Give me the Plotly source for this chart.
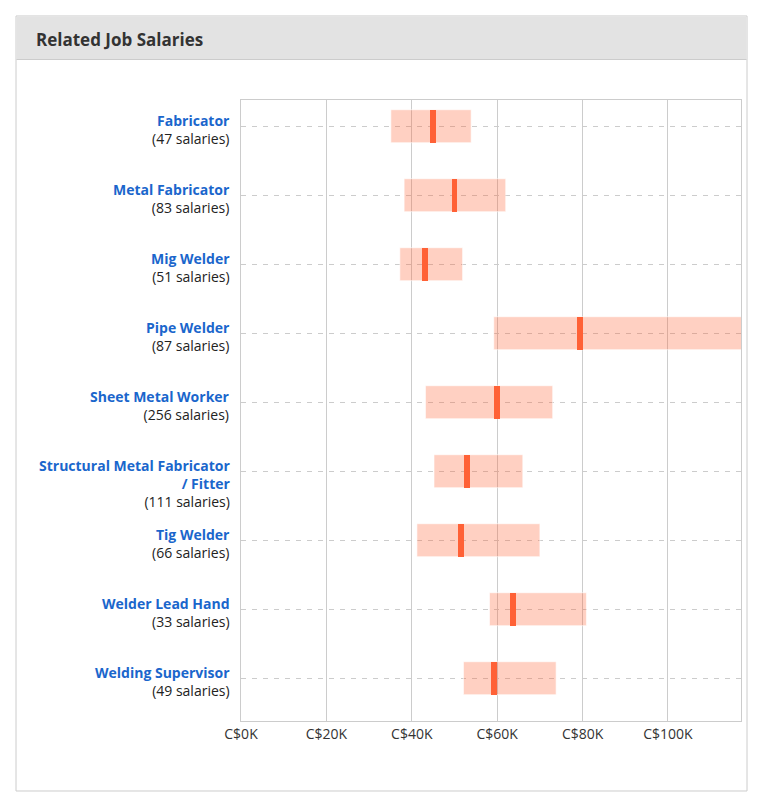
import plotly.graph_objects as go

jobs = ["Fabricator", "Metal Fabricator", "Mig Welder", "Pipe Welder", "Sheet Metal Worker",
        "Structural Metal Fabricator<br>/ Fitter", "Tig Welder", "Welder Lead Hand", "Welding Supervisor"]
counts = [47, 83, 51, 87, 256, 111, 66, 33, 49]
low_k = [35.1, 38.2, 37.2, 59.2, 43.2, 45.2, 41.2, 58.2, 52.1]
high_k = [53.9, 62.0, 51.9, 117.5, 73.0, 66.0, 70.0, 80.9, 73.8]
median_k = [45.0, 50.0, 43.1, 79.5, 60.0, 52.9, 51.6, 63.8, 59.3]
tick_vals = [0, 20, 40, 60, 80, 100]
tick_text = ["C$0K", "C$20K", "C$40K", "C$60K", "C$80K", "C$100K"]

FONT = "Open Sans"
BLUE = "#1a66cc"
rows = list(range(len(jobs)))
MED_W = 1.4  # thickness of the median marker, in K

fig = go.Figure()
fig.add_trace(go.Bar(
    orientation="h", y=rows, base=low_k,
    x=[h - l for h, l in zip(high_k, low_k)],
    width=0.478,
    marker=dict(color="rgba(255,100,52,0.3)", line=dict(color="rgba(255,255,255,0.6)", width=1)),
    hoverinfo="skip", showlegend=False,
))
fig.add_trace(go.Bar(
    orientation="h", y=rows, base=[m - MED_W / 2 for m in median_k],
    x=[MED_W] * len(median_k),
    width=0.478,
    marker=dict(color="#ff6136", line=dict(width=0)),
    hoverinfo="skip", showlegend=False,
))

# panel frame
fig.add_shape(type="rect", xref="paper", yref="paper", x0=-0.45, x1=1.012, y0=-0.1127, y1=1.1353,
              line=dict(color="#cccccc", width=1), fillcolor="white", layer="below")
fig.add_shape(type="rect", xref="paper", yref="paper", x0=-0.449, x1=1.011, y0=1.0652, y1=1.1345,
              line=dict(width=0), fillcolor="#e3e3e3", layer="below")
fig.add_shape(type="line", xref="paper", yref="paper", x0=-0.449, x1=1.011, y0=1.0652, y1=1.0652,
              line=dict(color="#cccccc", width=1), layer="below")

fig.add_annotation(xref="paper", yref="paper", x=-0.414, y=1.0982, xanchor="left", yanchor="middle",
                   text="<b>Related Job Salaries</b>", showarrow=False,
                   font=dict(family=FONT, size=17, color="#333333"))

for i, (job, n) in enumerate(zip(jobs, counts)):
    fig.add_annotation(
        xref="paper", yref="y", x=-0.018, y=i, xanchor="right", yanchor="top", yshift=17,
        align="right", showarrow=False,
        text=f"<b><span style='color:{BLUE}'>{job}</span></b><br>({n} salaries)",
        font=dict(family=FONT, size=14, color="#222222"),
    )

fig.update_layout(
    width=763, height=805,
    margin=dict(l=241, r=22, t=100, b=84),
    paper_bgcolor="white", plot_bgcolor="white",
    barmode="overlay", bargap=0,
    font=dict(family=FONT, size=14, color="#333333"),
    xaxis=dict(range=[0, 117.1], tickvals=tick_vals, ticktext=tick_text,
               showgrid=True, gridcolor="#cccccc", gridwidth=1,
               showline=True, linecolor="#cccccc", linewidth=1, mirror=True,
               zeroline=False, ticks="", fixedrange=True,
               tickfont=dict(family=FONT, size=14, color="#333333")),
    yaxis=dict(range=[8.62, -0.38], tickvals=rows, showticklabels=False,
               showgrid=True, gridcolor="#cccccc", gridwidth=1, griddash="5px,6px",
               showline=True, linecolor="#cccccc", linewidth=1, mirror=True,
               zeroline=False, ticks="", fixedrange=True),
)

fig.write_html("out.html", config={"displayModeBar": False, "staticPlot": True},
               post_script="document.body.style.margin='0';")
